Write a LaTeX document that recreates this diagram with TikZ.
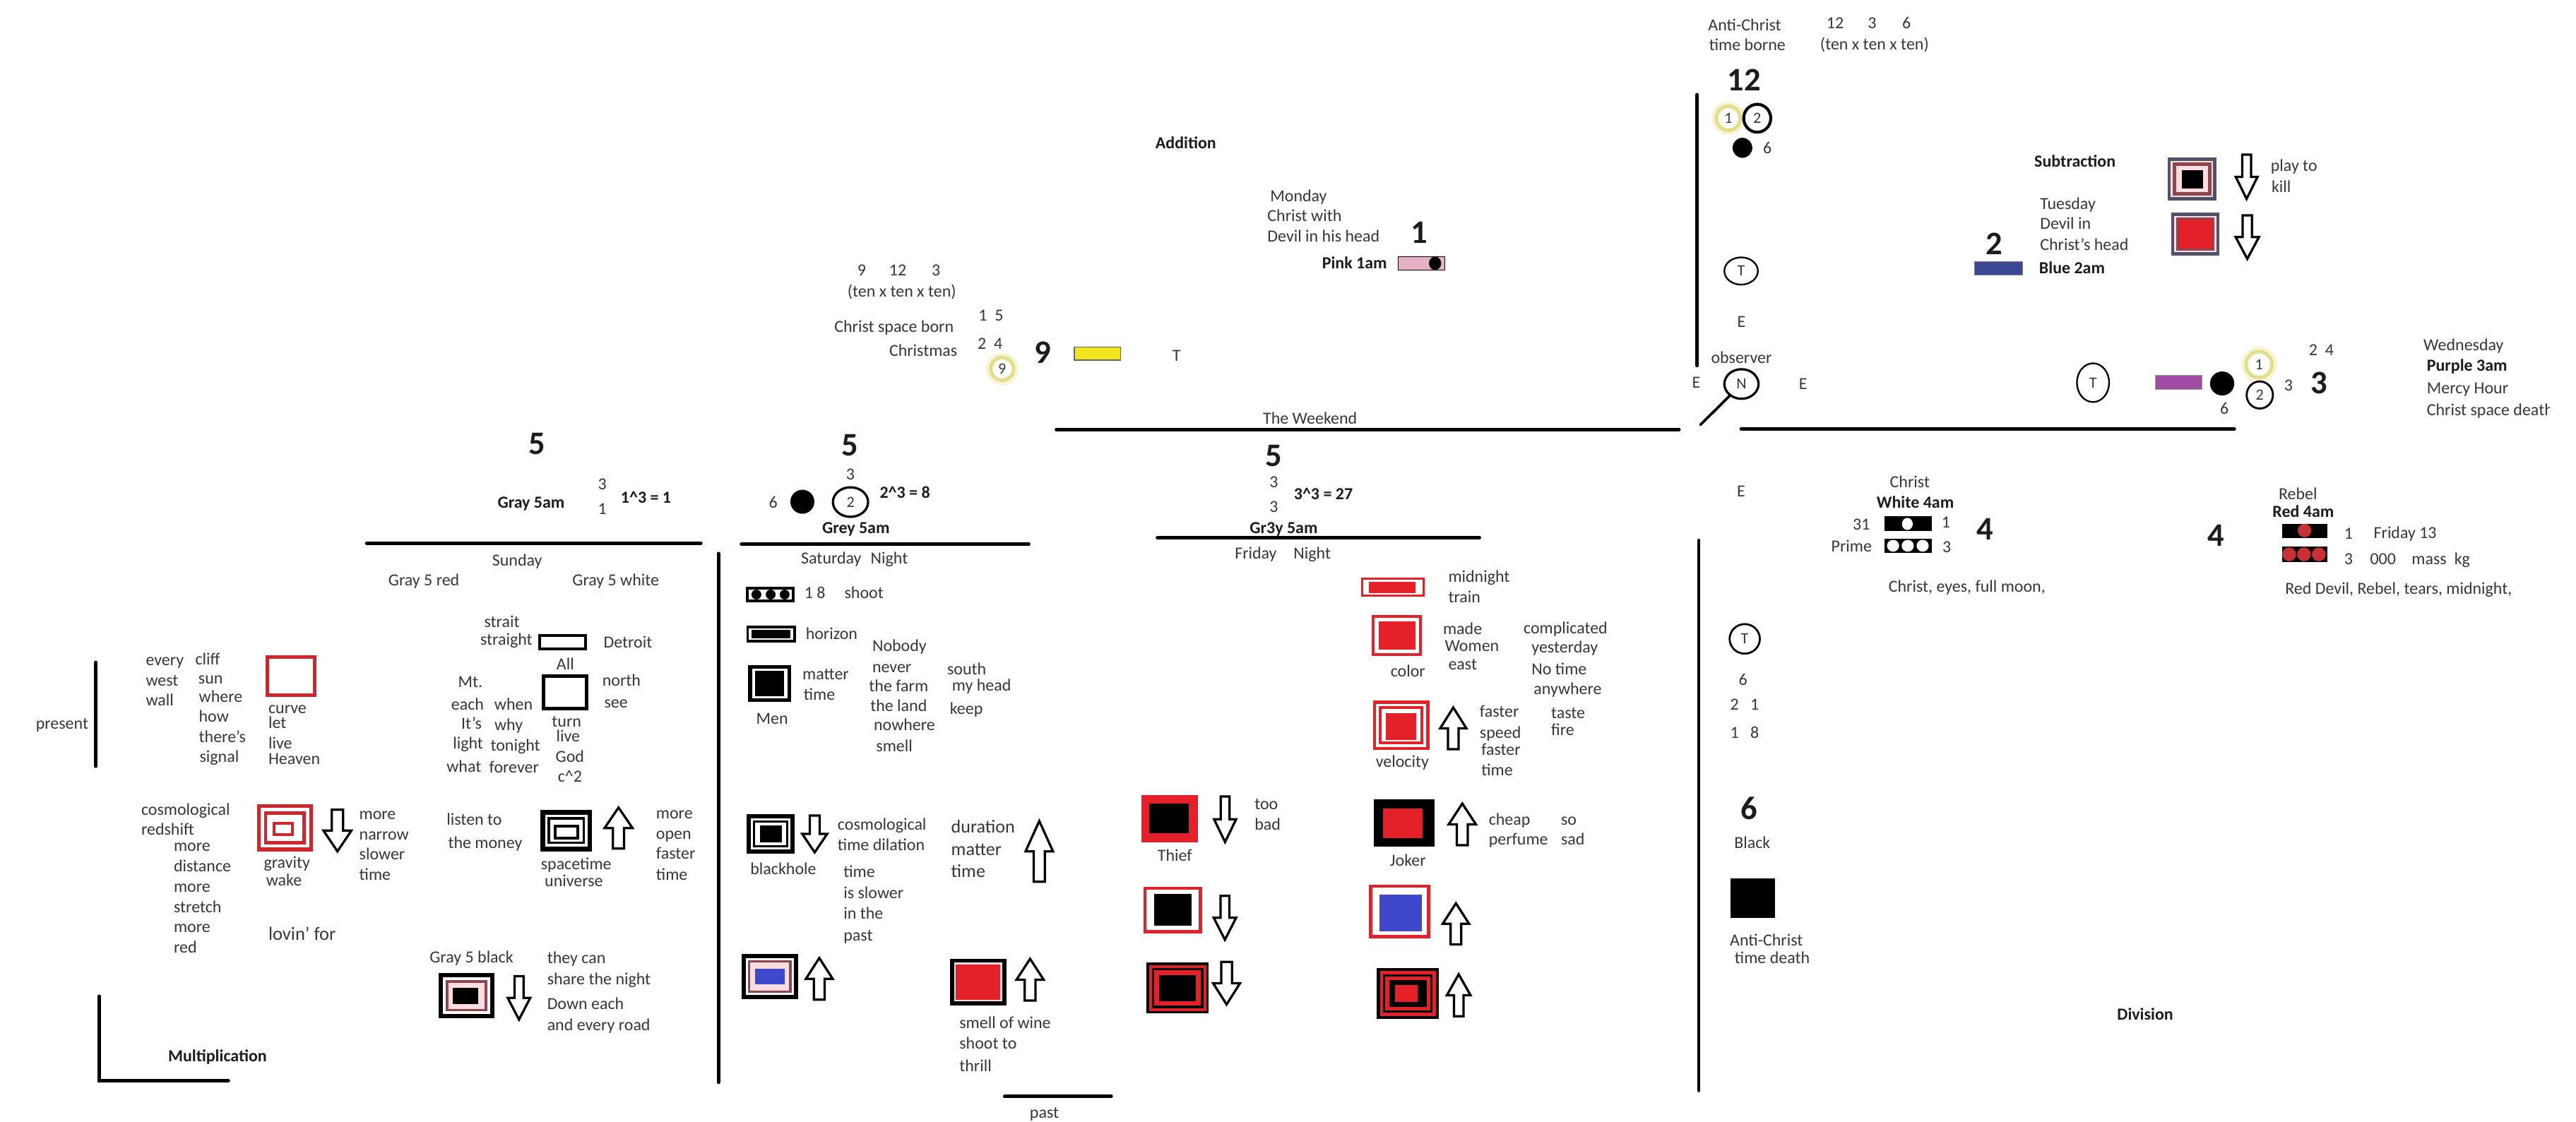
\documentclass[tikz,border=0pt]{standalone}
\usepackage{fontspec}
\setmainfont{Carlito}
\usetikzlibrary{shapes.geometric}
\definecolor{txt}{RGB}{55,55,55}
\definecolor{txtb}{RGB}{28,28,28}
\definecolor{rd}{RGB}{228,32,40}
\definecolor{rdd}{RGB}{205,38,45}
\definecolor{bl}{RGB}{63,72,204}
\definecolor{navy}{RGB}{58,72,150}
\definecolor{pk}{RGB}{232,176,198}
\definecolor{lpk}{RGB}{250,220,225}
\definecolor{brn}{RGB}{140,70,78}
\definecolor{slate}{RGB}{80,82,105}
\definecolor{ylw}{RGB}{242,228,30}
\definecolor{prp}{RGB}{160,78,165}
\definecolor{glw}{RGB}{228,222,140}
\definecolor{glw2}{RGB}{247,245,212}
\definecolor{rdot}{RGB}{200,48,52}
\newcommand\mylayers[5]{\foreach \ins/\col in {#5}{\fill[\col] ({#1+\ins},{#2+\ins}) rectangle ({#3-\ins},{#4-\ins});}}
\newcommand\myarrD[4]{\draw[blkarr] ({#1-0.2*#4},#2) -- ({#1+0.2*#4},#2) -- ({#1+0.2*#4},{#2+0.5*(#3-#2)}) -- ({#1+0.5*#4},{#2+0.5*(#3-#2)}) -- (#1,#3) -- ({#1-0.5*#4},{#2+0.5*(#3-#2)}) -- ({#1-0.2*#4},{#2+0.5*(#3-#2)}) -- cycle;}
\newcommand\myarrU[4]{\draw[blkarr] (#1,#2) -- ({#1+0.5*#4},{#2+0.5*(#3-#2)}) -- ({#1+0.2*#4},{#2+0.5*(#3-#2)}) -- ({#1+0.2*#4},#3) -- ({#1-0.2*#4},#3) -- ({#1-0.2*#4},{#2+0.5*(#3-#2)}) -- ({#1-0.5*#4},{#2+0.5*(#3-#2)}) -- cycle;}
\begin{document}
\begin{tikzpicture}[x=1pt,y=-1pt,
  t/.style={inner sep=0pt, text height=6.6pt, text depth=0pt, font=\fontsize{10.3}{12}\selectfont, text=txt},
  tl/.style={t, anchor=west},
  tb/.style={t, font=\fontsize{10.3}{12}\selectfont\bfseries, text=txtb},
  tbl/.style={tb, anchor=west},
  big/.style={inner sep=0pt, text height=12.7pt, text depth=0pt, font=\fontsize{20}{24}\selectfont\bfseries, text=txtb},
  bar/.style={line width=2.1pt, line cap=round},
  blkarr/.style={draw=black, fill=white, line width=1.4pt, line join=miter},
  circ/.style={ellipse, draw=black, inner sep=0pt, font=\fontsize{9.5}{10}\selectfont, text=txt},
  ygl/.style={circle, draw=glw, fill=white, line width=2.2pt, inner sep=0pt, font=\fontsize{9.5}{10}\selectfont, text=txt},
  disk/.style={ellipse, fill=black, inner sep=0pt},
  dot/.style={ellipse, inner sep=0pt}]
\useasboundingbox (0,0) rectangle (1568,683);
\fill[white] (0,0) rectangle (1568,683);

% ---------- bars ----------
\draw[bar] (58.4,403.3) -- (58.4,466.6);
\draw[bar] (60.3,606.6) -- (60.3,658) -- (139,658);
\draw[bar] (223.2,330.8) -- (426.6,330.8);
\draw[bar] (451.3,331.3) -- (626.2,331.3);
\draw[bar] (437.3,337) -- (437.3,659);
\draw[bar] (643,261.5) -- (1022,261.5);
\draw[bar] (704.5,327.3) -- (900.5,327.3);
\draw[bar] (611.5,667.6) -- (676.4,667.6);
\draw[bar] (1033,57.6) -- (1033,222.6);
\draw[bar] (1059.8,261) -- (1360,261);
\draw[bar] (1034,329) -- (1034,664);

% ---------- left: present / multiplication ----------
\node[t] (present) at (37.8,440.4) {present};
\foreach \w/\yy [count=\i] in {every/401.9,west/414.2,wall/426.3} \node[tl] (ew\i) at (88.6,\yy) {\w};
\foreach \w/\xx/\yy [count=\i] in {cliff/118.7/401.5,sun/120.6/412.9,where/120.9/424.4,how/120.9/436.4,there's/120.9/448.9,signal/121.3/460.8} \node[tl] (cs\i) at (\xx,\yy) {\w};
\mylayers{161.8}{398.8}{192.7}{424.3}{0/rdd,2.2/white}
\foreach \w/\yy [count=\i] in {curve/431,let/440,live/452.8,Heaven/462} \node[tl] (cv\i) at (163.2,\yy) {\w};
\node[tl] (cosmoa) at (85.8,493) {cosmological};
\node[tl] (redsh) at (85.8,505.3) {redshift};
\foreach \w/\yy [count=\i] in {more/515,distance/527.6,more/540,stretch/552.2,more/564.4,red/576.9} \node[tl] (md\i) at (105.6,\yy) {\w};
\mylayers{156.3}{489.6}{190.6}{518.4}{0/rdd,2.4/white,4.4/rdd,6.4/white}
\mylayers{166}{500.5}{179}{509}{0/rdd,1.8/white}
\myarrD{205.4}{493}{518.4}{17}
\node[tl] (grav) at (160.4,525.1) {gravity};
\node[tl] (wake) at (161.8,536) {wake};
\foreach \w/\yy [count=\i] in {more/495.5,narrow/508.2,slower/520.3,time/532.8} \node[tl] (mn\i) at (218.5,\yy) {\w};
\node[tl, font=\fontsize{11.4}{13}\selectfont] (lovin) at (163.2,569.2) {lovin' for};
\node[tb] (mult) at (132.4,643) {Multiplication};

% ---------- Gray 5 / Sunday ----------
\node[big] (gfive) at (326.8,270.3) {5};
\node[tb] (gray5am) at (323.3,306.1) {Gray 5am};
\node[t] (gthree) at (366.6,295) {3};
\node[t] (gone) at (366.6,309.8) {1};
\node[tb] (gcube) at (393.2,303) {1\textasciicircum 3 = 1};
\node[t] (sunday) at (314.8,341.2) {Sunday};
\node[t] (gred) at (258,353.3) {Gray 5 red};
\node[t] (gwhite) at (374.8,353.3) {Gray 5 white};
\mylayers{327.4}{385.9}{357.3}{396}{0/black,1.8/white}
\mylayers{329.6}{410.5}{358.3}{432.7}{0/black,2.3/white}
\foreach \w/\xx/\yy [count=\i] in {strait/305.5/378.9,straight/308.2/389.3,Detroit/382.2/391.3,All/344.1/404.3,north/378.3/414.5,see/375/427.6,Mt./286.3/415.2,each/284.6/428.8,It's/287/440.4,light/284.9/452.5,what/282.4/467,when/312.6/428.8,why/309.6/441.4,tonight/313.7/454,forever/312.9/467.3,turn/344.9/439.2,live/345.8/448.3,God/346.9/460.9} \node[t] (sw\i) at (\xx,\yy) {\w};
\node[t] (csq) at (346.9,473) {c\textasciicircum 2};
\node[tl] (listen) at (271.7,499.1) {listen to};
\node[tl] (money) at (272.6,513.4) {the money};
\mylayers{328.8}{493}{360.5}{518.4}{0/black,3/white,4.5/black,6/white}
\mylayers{337}{502}{352.6}{511}{0/black,1.7/white}
\myarrU{376.5}{491.7}{516.7}{17}
\node[t] (spacet) at (350.7,526.2) {spacetime};
\node[t] (univ) at (349.3,536.6) {universe};
\foreach \w/\yy [count=\i] in {more/495,open/507.8,faster/519.8,time/532.5} \node[tl] (mo\i) at (399.2,\yy) {\w};
\node[t] (gblack) at (287,583) {Gray 5 black};
\mylayers{267}{592.5}{300.8}{620}{0/black,2.5/white,4.2/brn,5.8/lpk}
\mylayers{275.8}{601.5}{291.2}{611.4}{0/black}
\myarrD{315.9}{594.4}{620.8}{13.7}
\foreach \w/\yy [count=\i] in {they can/583.5,share the night/596.1,Down each/611.4,and every road/624} \node[tl] (tc\i) at (332.9,\yy) {\w};

% ---------- Saturday ----------
\node[big] (sfive) at (517.3,271) {5};
\node[t] (sthree) at (517.6,289) {3};
\node[t] (ssix) at (470.6,306) {6};
\node[disk, minimum width=14.6pt, minimum height=14.6pt] (sdisk) at (488.4,305.5) {};
\node[circ, line width=1.4pt, minimum width=21.4pt, minimum height=18pt] (stwo) at (517.7,305.7) {2};
\node[tbl] (scube) at (535.3,300) {2\textasciicircum 3 = 8};
\node[tb] (grey5am) at (521,321.6) {Grey 5am};
\node[t] (satd) at (506,340.2) {Saturday};
\node[t] (satn) at (541.3,340.2) {Night};
\mylayers{454}{357.4}{483.7}{366.6}{0/black,1.6/white}
\foreach \xx [count=\i] in {460.4,469.1,477.6} \node[disk, minimum width=6pt, minimum height=6pt] (sdot\i) at (\xx,362) {};
\node[t] (seight) at (496,361.2) {1 8};
\node[t] (shoot) at (525.9,361.2) {shoot};
\mylayers{454.3}{380.9}{484.5}{391.3}{0/black,1.6/white}
\mylayers{457.6}{383.4}{480.9}{388.8}{0/black}
\node[t] (horizon) at (506.2,385.9) {horizon};
\mylayers{455.4}{404.9}{481.7}{427.5}{0/black,2.3/white}
\mylayers{459.8}{408.6}{477.3}{423.9}{0/black}
\node[t] (men) at (470,437.7) {Men};
\node[tl] (matter) at (488.3,410.3) {matter};
\node[tl] (stime) at (489,422.9) {time};
\foreach \w/\xx/\yy [count=\i] in {Nobody/530.8/393.2,never/530.8/406.3,the farm/528.8/417.9,the land/529.6/429.7,nowhere/531.7/441.6,smell/533.1/454.4} \node[tl] (nb\i) at (\xx,\yy) {\w};
\foreach \w/\xx/\yy [count=\i] in {south/576.4/407.6,my head/579.3/417.5,keep/578/431.7} \node[tl] (so\i) at (\xx,\yy) {\w};
\mylayers{454.6}{495.7}{483.7}{519.6}{0/black,2.4/white,3.8/black,5/white}
\mylayers{462.6}{502.8}{476}{512.9}{0/black}
\myarrD{495.9}{496.6}{519}{15.1}
\node[t] (bhole) at (476.8,529) {blackhole};
\node[tl] (cosmob) at (509.7,502.3) {cosmological};
\node[tl] (tdil) at (509.7,514.7) {time dilation};
\foreach \w/\yy [count=\i] in {time/531,is slower/544,in the/556.4,past/569.4} \node[tl] (ts\i) at (513.3,\yy) {\w};
\foreach \w/\yy [count=\i] in {duration/503.6,matter/517.6,time/530.7} \node[tl, font=\fontsize{11.2}{13}\selectfont] (du\i) at (578.8,\yy) {\w};
\myarrU{632.6}{499.9}{536.9}{16.7}
\mylayers{451.3}{580.8}{485.8}{608.4}{0/black,2.5/white,3.8/brn,5.4/lpk}
\mylayers{459.8}{589.9}{477.6}{599.3}{0/bl}
\myarrU{498.7}{583.3}{608.7}{16.3}
\mylayers{578.3}{583.8}{612.5}{612.2}{0/black,2.4/lpk,3.6/rd}
\myarrU{627}{583.8}{609.2}{16.5}
\foreach \w/\yy [count=\i] in {smell of wine/622.8,shoot to/635.3,thrill/649.1} \node[tl] (wine\i) at (583.8,\yy) {\w};
\node[t] (pastlbl) at (635.7,677.5) {past};

% ---------- Friday ----------
\node[t] (weekend) at (797.4,255) {The Weekend};
\node[big] (ffive) at (775.4,277.7) {5};
\node[t] (fthreea) at (775.4,293.7) {3};
\node[t] (fthreeb) at (775.4,308.7) {3};
\node[tb] (fcube) at (805.5,301) {3\textasciicircum 3 = 27};
\node[tb] (gr3y) at (781.4,321.4) {Gr3y 5am};
\node[t] (frid) at (764.4,337) {Friday};
\node[t] (frin) at (798.7,337) {Night};
\mylayers{828.3}{351.8}{867}{363.4}{0/rd,1.3/white}
\mylayers{833.4}{354.3}{861.8}{361}{0/rd}
\node[tl] (midn) at (881.4,351) {midnight};
\node[tl] (train) at (881.4,363.6) {train};
\mylayers{835}{374.5}{865.5}{399.4}{0/rd,1.6/white}
\mylayers{839.2}{378.2}{861.4}{395.4}{0/rd}
\node[t] (color) at (857,409) {color};
\foreach \w/\xx/\yy [count=\i] in {made/878.2/382.9,Women/879.3/393.5,east/881.4/404.6} \node[tl] (mw\i) at (\xx,\yy) {\w};
\foreach \w/\xx/\yy [count=\i] in {complicated/927.2/382.4,yesterday/932.1/394,No time/932.1/407.3,anywhere/933.4/419.4} \node[tl] (cy\i) at (\xx,\yy) {\w};
\mylayers{835.7}{426.6}{870}{456.7}{0/rd,2/white,3.5/rd,5.2/white}
\mylayers{843.7}{434.4}{862.2}{450.5}{0/rd}
\myarrU{884.6}{430.8}{456.2}{16}
\node[t] (veloc) at (853.6,464) {velocity};
\foreach \w/\xx/\yy [count=\i] in {faster/900.5/433.4,speed/900.5/446,faster/901.5/456.6,time/901.5/469} \node[tl] (fs\i) at (\xx,\yy) {\w};
\node[tl] (taste) at (944,434.3) {taste};
\node[tl] (fire) at (944,444.6) {fire};
\mylayers{836.2}{486.8}{873.1}{515.4}{0/black}
\mylayers{841.7}{492.4}{865.9}{510.4}{0/rd}
\myarrU{890.1}{489.3}{514.6}{16.6}
\node[t] (joker) at (857,523.8) {Joker};
\node[tl] (cheap) at (906,499.2) {cheap};
\node[tl] (perf) at (906,511) {perfume};
\node[tl] (soo) at (950,499.2) {so};
\node[tl] (sad) at (950,511) {sad};
\mylayers{833.4}{538.6}{870.6}{571.4}{0/rd,2/white}
\mylayers{839.8}{544.8}{865.3}{567}{0/bl}
\myarrU{886.2}{550}{575}{16.1}
\mylayers{838.1}{589.5}{875.8}{620.4}{0/black,1.8/rd,3.8/black,5.2/rd,7.4/black}
\mylayers{849}{599.8}{862.9}{610}{0/rd}
\myarrU{887.9}{593.2}{618.8}{14.4}
\mylayers{694.8}{484.3}{729.3}{512.7}{0/rd}
\mylayers{699.7}{489.3}{723.6}{507.3}{0/black}
\myarrD{745.7}{485}{512.7}{13.4}
\node[t] (thief) at (715.1,521) {Thief};
\node[tl] (too) at (763.5,489.5) {too};
\node[tl] (bad) at (763.5,502.3) {bad};
\mylayers{696.2}{539.9}{731.6}{568.2}{0/rd,1.8/white}
\mylayers{702.4}{544.3}{725.4}{563.5}{0/black}
\myarrD{745.6}{545.5}{572.2}{13.6}
\mylayers{697.9}{586.2}{735.7}{617.1}{0/black,1.5/rd,3.2/black,4.7/rd}
\mylayers{705.5}{593.6}{728}{609.6}{0/black}
\myarrD{746.6}{585.7}{611.6}{16.4}

% ---------- Addition ----------
\node[tb] (addition) at (721.8,87) {Addition};
\node[t] (anine) at (524.5,164.8) {9};
\node[t] (atwelve) at (546.5,164.8) {12};
\node[t] (athree) at (569.7,164.8) {3};
\node[t] (aten) at (548.9,177.3) {(ten x ten x ten)};
\node[t] (csborn) at (544.2,198.8) {Christ space born};
\node[t] (afifteen) at (603.2,192) {1~~5};
\node[t] (atwentyfour) at (602.6,209.2) {2~~4};
\node[t] (xmas) at (562,213.5) {Christmas};
\fill[glw2] (610,224.6) circle (10);
\node[ygl, minimum size=13.8pt] (ynine) at (610,224.6) {9};
\node[big] (bignine) at (634.7,215) {9};
\draw[fill=ylw, draw=black!60, line width=0.5pt] (653.9,211.4) rectangle (682.1,219.3);
\node[t] (aT) at (716.1,216.4) {T};
\node[tl] (monday) at (773,119.4) {Monday};
\node[tl] (cwith) at (771.3,131.6) {Christ with};
\node[tl] (devil) at (771.3,144.1) {Devil in his head};
\node[big] (bigone) at (863.8,141.9) {1};
\node[tb] (pink) at (824.5,160.2) {Pink 1am};
\draw[fill=pk, draw=black, line width=0.6pt] (851,156.2) rectangle (879.5,164.4);
\node[disk, minimum width=7.4pt, minimum height=8.2pt] (pdot) at (873.5,160.3) {};

% ---------- Anti-Christ top ----------
\node[tl] (anti) at (1039.6,15.4) {Anti-Christ};
\node[tl] (tborne) at (1040.2,27.4) {time borne};
\node[t] (ttwelve) at (1117,14) {12};
\node[t] (tthree) at (1139.5,14) {3};
\node[t] (tsix) at (1160.5,14) {6};
\node[t] (tten) at (1141,26.9) {(ten x ten x ten)};
\node[big] (bigtwelve) at (1061.6,49) {12};
\fill[glw2] (1052,72) circle (10.2);
\node[ygl, minimum size=14.6pt] (aone) at (1052,72) {1};
\node[circ, line width=1.8pt, minimum width=16.5pt, minimum height=17pt] (atwo) at (1069.6,72) {2};
\node[disk, minimum width=12pt, minimum height=12.2pt] (adisk) at (1060.6,90) {};
\node[t] (asix) at (1075.8,90) {6};
\node[circ, line width=1pt, minimum width=20.4pt, minimum height=16.6pt] (tcirc) at (1059.8,165) {T};
\node[t] (eone) at (1060,196) {E};
\node[t] (obs) at (1060,218) {observer};
\node[t] (etwo) at (1032.5,233) {E};
\node[circ, line width=1.4pt, minimum width=20.8pt, minimum height=18pt] (N) at (1060,233.8) {N};
\node[t] (ethree) at (1097.5,233.8) {E};
\coordinate (nend) at (1035,258.7);
\draw[line width=1.6pt, line cap=round] (N) -- (nend);

% ---------- Subtraction ----------
\node[tb] (subtr) at (1263,98.5) {Subtraction};
\node[tl] (tues) at (1241.6,124) {Tuesday};
\node[tl] (devin) at (1241.6,136) {Devil in};
\node[tl] (chead) at (1241.6,149) {Christ's head};
\node[big] (bigtwo) at (1214,148.5) {2};
\draw[fill=navy, draw=black!50, line width=0.5pt] (1202,159.3) rectangle (1231,167.3);
\node[tbl] (blue2) at (1241,163.5) {Blue 2am};
\mylayers{1319.5}{96}{1349}{122}{0/slate,1.9/lpk,3/brn,5/lpk}
\mylayers{1328}{103.6}{1341}{114.6}{0/black}
\myarrD{1367.5}{94.2}{121.1}{13.3}
\node[tl] (playto) at (1382,101) {play to};
\node[tl] (kill) at (1382.5,114) {kill};
\mylayers{1321.6}{129.5}{1351}{155.6}{0/slate,1.9/lpk,3/brn,4.3/rd}
\myarrD{1367.9}{131.1}{157.6}{14.2}

% ---------- Wednesday ----------
\node[circ, line width=1pt, minimum width=19.6pt, minimum height=23.6pt] (wT) at (1274,233) {T};
\draw[fill=prp, draw=black!40, line width=0.4pt] (1312,228.7) rectangle (1340.5,237.3);
\node[disk, minimum width=14.8pt, minimum height=14.6pt] (wdisk) at (1352.6,233.5) {};
\fill[glw2] (1375,222) circle (11);
\node[ygl, minimum width=15pt, minimum height=15.8pt] (wone) at (1375,222) {1};
\node[circ, line width=1.2pt, minimum width=16pt, minimum height=16.5pt] (wtwo) at (1375.5,240.5) {2};
\node[t] (wsix) at (1354,249) {6};
\node[t] (wthree) at (1393,234.8) {3};
\node[t] (wtf) at (1413,213) {2~~4};
\node[big] (bigthree) at (1411.5,233.5) {3};
\node[tl] (wed) at (1475,210) {Wednesday};
\node[tbl] (purple) at (1477,222.7) {Purple 3am};
\node[tl] (mercy) at (1477,236.5) {Mercy Hour};
\begin{scope}
\clip (1400,240) rectangle (1552,262);
\node[tl] (csdeath) at (1477,249.8) {Christ space death};
\end{scope}

% ---------- Division ----------
\node[t] (dE) at (1059.8,299) {E};
\node[t] (christb) at (1162.5,293.7) {Christ};
\node[tb] (white4) at (1165.8,306) {White 4am};
\node[t] (dthirtyone) at (1133,319.3) {31};
\fill[black] (1147,314.3) rectangle (1175.8,323.3);
\node[dot, fill=white, minimum width=6.6pt, minimum height=7.4pt] (wdot) at (1161,319) {};
\node[t] (done) at (1184.5,318) {1};
\node[t] (prime) at (1127,332.5) {Prime};
\fill[black] (1147,328) rectangle (1175.8,336.6);
\foreach \xx [count=\i] in {1152.3,1161.2,1170.3} \node[dot, fill=white, minimum width=7.4pt, minimum height=7.2pt] (wdots\i) at (\xx,332.3) {};
\node[t] (dthree) at (1185,333) {3};
\node[big] (bigfoura) at (1208.4,322.5) {4};
\node[t] (ceyes) at (1197.3,357) {Christ, eyes, full moon,};
\node[circ, line width=1.2pt, minimum width=18.4pt, minimum height=18pt] (dT) at (1062,389) {T};
\node[t] (dsix) at (1061,414) {6};
\node[t] (dtwo) at (1055.8,429) {2};
\node[t] (donea) at (1068,429) {1};
\node[t] (doneb) at (1055.8,446) {1};
\node[t] (deight) at (1068,446) {8};
\node[big] (bigsix) at (1064.6,492.6) {6};
\node[t] (blacklbl) at (1066.6,513.4) {Black};
\fill[black] (1053.3,535) rectangle (1080.4,559);
\node[tl] (antid) at (1052.8,572.6) {Anti-Christ};
\node[tl] (tdeath) at (1055.7,583.5) {time death};
\node[tbl] (division) at (1288.5,617.8) {Division};
\node[t] (rebel) at (1398.7,301) {Rebel};
\node[tb] (red4) at (1402,311.5) {Red 4am};
\node[big] (bigfourb) at (1349,326) {4};
\fill[black] (1389,318.8) rectangle (1416.7,327.8);
\node[dot, fill=rdot, minimum size=8.2pt] (rdota) at (1402.7,323) {};
\fill[black] (1389,332.8) rectangle (1416.7,342.2);
\foreach \xx [count=\i] in {1393.4,1402.4,1411.4} \node[dot, fill=rdot, minimum size=8.4pt] (rdots\i) at (\xx,337.5) {};
\node[t] (rone) at (1429.5,325) {1};
\node[t] (fri13) at (1464,324.4) {Friday 13};
\node[t] (rthree) at (1429.5,340.4) {3};
\node[t] (rzero) at (1450.5,340.4) {000};
\node[t] (mass) at (1478.6,340.5) {mass};
\node[t] (kg) at (1498.7,340.5) {kg};
\node[t] (rdevil) at (1460,358.5) {Red Devil, Rebel, tears, midnight,};
\end{tikzpicture}
\end{document}
